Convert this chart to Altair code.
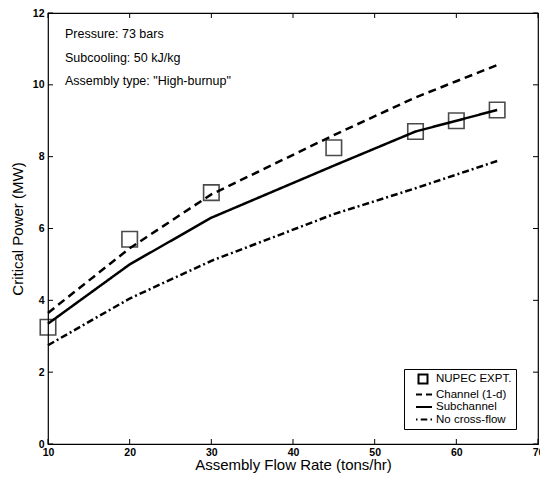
import altair as alt
import pandas as pd

# ---- data ----
flow_expt = [10, 20, 30, 45, 55, 60, 65]
power_expt = [3.25, 5.7, 7.0, 8.25, 8.7, 9.0, 9.3]

flow_model = [10, 20, 30, 45, 55, 60, 65]
channel_1d = [3.65, 5.45, 6.95, 8.6, 9.65, 10.1, 10.55]
subchannel = [3.35, 5.0, 6.3, 7.75, 8.7, 9.0, 9.3]
no_crossflow = [2.75, 4.05, 5.1, 6.4, 7.12, 7.5, 7.88]

legend_labels = ["NUPEC EXPT.", "Channel (1-d)", "Subchannel", "No cross-flow"]
annotations = ["Pressure: 73 bars", "Subcooling: 50 kJ/kg", 'Assembly type: "High-burnup"']

x_ticks = [10, 20, 30, 40, 50, 60, 70]
y_ticks = [0, 2, 4, 6, 8, 10, 12]

W, H = 490, 431
FONT = "Liberation Sans"

expt_df = pd.DataFrame({"flow": flow_expt, "power": power_expt, "series": legend_labels[0]})
rows = []
for name, vals in zip(legend_labels[1:], [channel_1d, subchannel, no_crossflow]):
    for f, p in zip(flow_model, vals):
        rows.append({"flow": f, "power": p, "series": name})
model_df = pd.DataFrame(rows)
legend_df = pd.DataFrame({"flow": [flow_expt[0]] * 4, "power": [power_expt[0]] * 4, "series": legend_labels})
xt_df = pd.DataFrame({"flow": x_ticks})
yt_df = pd.DataFrame({"power": y_ticks})

xscale = alt.Scale(domain=[10, 70], nice=False, zero=False)
yscale = alt.Scale(domain=[0, 12], nice=False, zero=False)
xaxis = alt.Axis(values=x_ticks, title="Assembly Flow Rate (tons/hr)", titlePadding=0,
                 labelPadding=3, labelFlush=False)
yaxis = alt.Axis(values=y_ticks, title="Critical Power (MW)", titlePadding=7, labelPadding=4)

X = alt.X("flow:Q", scale=xscale, axis=xaxis)
Y = alt.Y("power:Q", scale=yscale, axis=yaxis)

lines = alt.Chart(model_df).mark_line(color="black", strokeWidth=2.5).encode(
    x=X, y=Y,
    strokeDash=alt.StrokeDash(
        "series:N",
        scale=alt.Scale(domain=legend_labels[1:], range=[[8, 5], [1, 0], [7, 3, 2, 3]]),
        legend=None,
    ),
    detail="series:N",
)

points = alt.Chart(expt_df).mark_point(shape="square", size=240, color="black", strokeWidth=1.6, filled=False).encode(
    x=X, y=Y
)

shape_paths = [
    "M0.9,-0.9L2.7,-0.9L2.7,0.9L0.9,0.9Z",
    "M0.4,0L1.6,0M2.4,0L3.6,0",
    "M0.4,0L3.6,0",
    "M0.4,0L0.7,0M1.35,0L2.65,0M3.3,0L3.6,0",
]
legend_layer = alt.Chart(legend_df).mark_point(color="black", opacity=0, filled=False).encode(
    x=X, y=Y,
    shape=alt.Shape(
        "series:N",
        scale=alt.Scale(domain=legend_labels, range=shape_paths),
        legend=alt.Legend(
            title=None, orient="none", legendX=356, legendY=356,
            strokeColor="black", padding=4, symbolSize=100, symbolOpacity=1,
            symbolStrokeColor="black", symbolFillColor="transparent", symbolStrokeWidth=2,
            labelOffset=16, labelFont=FONT, labelFontSize=11.5,
            labelColor="black", rowPadding=0.5, fillColor="white",
        ),
    ),
)

tick_bottom = alt.Chart(xt_df).mark_rule(color="black", strokeWidth=1).encode(
    x=X, y=alt.value(H), y2=alt.value(H - 5))
tick_top = alt.Chart(xt_df).mark_rule(color="black", strokeWidth=1).encode(
    x=X, y=alt.value(0), y2=alt.value(5))
tick_left = alt.Chart(yt_df).mark_rule(color="black", strokeWidth=1).encode(
    y=Y, x=alt.value(0), x2=alt.value(5))
tick_right = alt.Chart(yt_df).mark_rule(color="black", strokeWidth=1).encode(
    y=Y, x=alt.value(W), x2=alt.value(W - 5))

notes = alt.Chart(pd.DataFrame({"k": [0]})).mark_text(
    align="left", baseline="alphabetic", font=FONT, fontSize=12.5, color="black", lineHeight=23.5
).encode(x=alt.value(17), y=alt.value(25), text=alt.value(annotations))

chart = alt.layer(
    tick_bottom, tick_top, tick_left, tick_right, lines, points, legend_layer, notes
).properties(
    width=W, height=H,
    autosize=alt.AutoSizeParams(type="none"),
    padding={"left": 40, "top": 5, "right": 2, "bottom": 30},
).configure_view(
    stroke="black", strokeWidth=1.2
).configure_axis(
    grid=False, ticks=False, domain=False,
    labelFont=FONT, labelFontSize=10.5, labelFontWeight="bold", labelColor="black",
    titleFont=FONT, titleFontSize=15, titleFontWeight="normal", titleColor="black",
)

chart.save("out.html", embed_options={"renderer": "svg", "actions": False})
